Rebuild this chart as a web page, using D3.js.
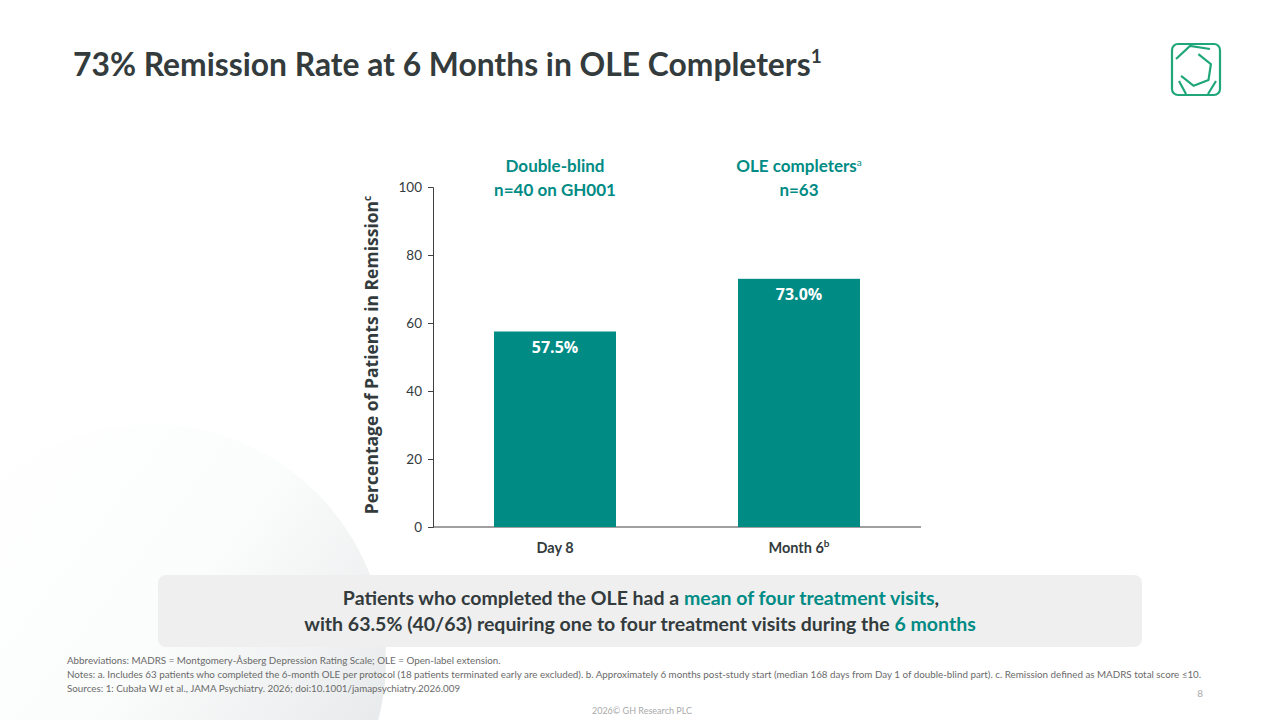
<!DOCTYPE html>
<html>
<head>
<meta charset="utf-8">
<script src="https://cdn.jsdelivr.net/npm/d3@7"></script>
<style>
  body { margin: 0; background: #fff; }
  svg { display: block; font-family: Lato, "Open Sans", sans-serif; }
</style>
</head>
<body>
<div id="chart"></div>
<script>
// data
var categories = ["Day 8", "Month 6"]
var catSup = ["", "b"]
var values = [57.5, 73.0]
var valueLabels = ["57.5%", "73.0%"]
var headerTop = ["Double-blind", "OLE completers"]
var headerTopSup = ["", "a"]
var headerBottom = ["n=40 on GH001", "n=63"]
var yTicks = [0, 20, 40, 60, 80, 100]

var teal = "#008b85"
var dark = "#333b3d"

var screen = {width: 1280, height: 720}
var plot = {left: 433, right: 921, top: 187, bottom: 527}

var svg = d3.select("#chart").append("svg")
  .attr("width", screen.width)
  .attr("height", screen.height)

// faint background disc bottom left
var defs = svg.append("defs")
var grad = defs.append("linearGradient").attr("id", "bgdisc")
  .attr("x1", "10%").attr("y1", "10%").attr("x2", "95%").attr("y2", "75%")
grad.append("stop").attr("offset", "0%").attr("stop-color", "#ffffff")
grad.append("stop").attr("offset", "50%").attr("stop-color", "#fbfcfc")
grad.append("stop").attr("offset", "100%").attr("stop-color", "#e6e9ea")
svg.append("circle")
  .attr("cx", 150).attr("cy", 660).attr("r", 236)
  .attr("fill", "url(#bgdisc)")

// title
var title = svg.append("text")
  .attr("x", 73).attr("y", 76)
  .style("font-size", "31.8px").style("font-weight", 700)
  .attr("fill", dark)
title.append("tspan").text("73% Remission Rate at 6 Months in OLE Completers")
title.append("tspan").text("1").attr("dy", -13).style("font-size", "19px")

// logo
var logo = svg.append("g").attr("transform", "translate(1196,69)")
  .attr("fill", "none").attr("stroke", "#1fa67a").attr("stroke-width", 2.2)
logo.append("rect").attr("x", -24).attr("y", -25).attr("width", 48).attr("height", 51).attr("rx", 6)
var hex = d3.range(6).map(function(i) {
  var a = -Math.PI / 2 + i * Math.PI / 3 + 0.15
  return [16 * Math.cos(a), 16 * Math.sin(a) + 1]
})
logo.append("path").attr("d", d3.line()(hex.slice(0, 5)))
logo.append("path").attr("d", "M-20,-10 L-6,-23 L14,-20 M-10,25 L-17,12 M12,25 L20,12")

// scales
var xScale = d3.scaleBand()
  .domain(categories)
  .range([plot.left, plot.right])
  .paddingInner(0.5)
  .paddingOuter(0.25)
var yScale = d3.scaleLinear()
  .domain([0, 100])
  .range([plot.bottom, plot.top])

// y axis
var yAxis = d3.axisLeft(yScale).tickValues(yTicks).tickSize(5).tickPadding(6)
var yg = svg.append("g")
  .attr("transform", "translate(" + plot.left + ",0)")
  .call(yAxis)
yg.selectAll("path, line").attr("stroke", "#404040")
yg.selectAll("text").style("font-size", "13.5px").attr("fill", dark)
  .style("font-family", "Lato, sans-serif")

// x axis line
svg.append("line")
  .attr("x1", plot.left).attr("x2", plot.right)
  .attr("y1", yScale(0)).attr("y2", yScale(0))
  .attr("stroke", "#404040").attr("stroke-width", 1)

// bars
svg.selectAll("rect.bar")
  .data(values)
  .enter()
  .append("rect")
  .attr("class", "bar")
  .attr("x", function(d, i) { return xScale(categories[i]) })
  .attr("y", function(d) { return yScale(d) })
  .attr("width", xScale.bandwidth())
  .attr("height", function(d) { return yScale(0) - yScale(d) })
  .attr("fill", teal)

// value labels
svg.selectAll("text.val")
  .data(values)
  .enter()
  .append("text")
  .attr("class", "val")
  .attr("x", function(d, i) { return xScale(categories[i]) + xScale.bandwidth() / 2 })
  .attr("y", function(d) { return yScale(d) + 21 })
  .attr("text-anchor", "middle")
  .style("font-family", "'Open Sans', sans-serif")
  .style("font-size", "16px").style("font-weight", 700)
  .attr("fill", "#fff")
  .text(function(d, i) { return valueLabels[i] })

// x labels
categories.forEach(function(c, i) {
  var t = svg.append("text")
    .attr("x", xScale(c) + xScale.bandwidth() / 2)
    .attr("y", 553)
    .attr("text-anchor", "middle")
    .style("font-size", "14.5px").style("font-weight", 700)
    .attr("fill", dark)
  t.append("tspan").text(c)
  if (catSup[i]) t.append("tspan").text(catSup[i]).attr("dy", -6).style("font-size", "10px")
})

// column headers
categories.forEach(function(c, i) {
  var cx = xScale(c) + xScale.bandwidth() / 2
  var t = svg.append("text")
    .attr("x", cx).attr("y", 172)
    .attr("text-anchor", "middle")
    .style("font-size", "17px").style("font-weight", 700)
    .attr("fill", teal)
  t.append("tspan").text(headerTop[i])
  if (headerTopSup[i]) t.append("tspan").text(headerTopSup[i]).attr("dy", -6).style("font-size", "10px").style("font-weight", 400)
  svg.append("text")
    .attr("x", cx).attr("y", 196)
    .attr("text-anchor", "middle")
    .style("font-size", "17px").style("font-weight", 700)
    .attr("fill", teal)
    .text(headerBottom[i])
})

// y axis title
var yt = svg.append("text")
  .attr("transform", "translate(378," + ((plot.top + plot.bottom) / 2 - 2) + ") rotate(-90)")
  .attr("text-anchor", "middle")
  .style("font-family", "'Open Sans', sans-serif")
  .style("font-size", "17.5px").style("font-weight", 700)
  .attr("fill", dark)
yt.append("tspan").text("Percentage of Patients in Remission")
yt.append("tspan").text("c").attr("dy", -7).style("font-size", "10px")

// callout box
svg.append("rect")
  .attr("x", 158).attr("y", 575).attr("width", 984).attr("height", 72)
  .attr("rx", 8).attr("fill", "#efefef")
var l1 = svg.append("text").attr("x", 641).attr("y", 605).attr("text-anchor", "middle")
  .style("font-size", "19.5px").style("font-weight", 700).attr("fill", dark)
l1.append("tspan").text("Patients who completed the OLE had a ")
l1.append("tspan").text("mean of four treatment visits").attr("fill", teal)
l1.append("tspan").text(",")
var l2 = svg.append("text").attr("x", 640).attr("y", 631).attr("text-anchor", "middle")
  .style("font-size", "19.5px").style("font-weight", 700).attr("fill", dark)
l2.append("tspan").text("with 63.5% (40/63) requiring one to four treatment visits during the ")
l2.append("tspan").text("6 months").attr("fill", teal)

// footnotes
var notes = [
  "Abbreviations: MADRS = Montgomery-Åsberg Depression Rating Scale; OLE = Open-label extension.",
  "Notes: a. Includes 63 patients who completed the 6-month OLE per protocol (18 patients terminated early are excluded). b. Approximately 6 months post-study start (median 168 days from Day 1 of double-blind part). c. Remission defined as MADRS total score ≤10.",
  "Sources: 1: Cubała WJ et al., JAMA Psychiatry. 2026; doi:10.1001/jamapsychiatry.2026.009"
]
svg.selectAll("text.note")
  .data(notes)
  .enter()
  .append("text")
  .attr("class", "note")
  .attr("x", 67)
  .attr("y", function(d, i) { return 664 + i * 14 })
  .style("font-size", "9.8px")
  .attr("fill", "#6a6a6a")
  .text(function(d) { return d })

svg.append("text").attr("x", 1203).attr("y", 697).attr("text-anchor", "end")
  .style("font-size", "10px").attr("fill", "#aaa").text("8")
svg.append("text").attr("x", 642).attr("y", 714).attr("text-anchor", "middle")
  .style("font-size", "9px").attr("fill", "#aaa").text("2026© GH Research PLC")
</script>
</body>
</html>
